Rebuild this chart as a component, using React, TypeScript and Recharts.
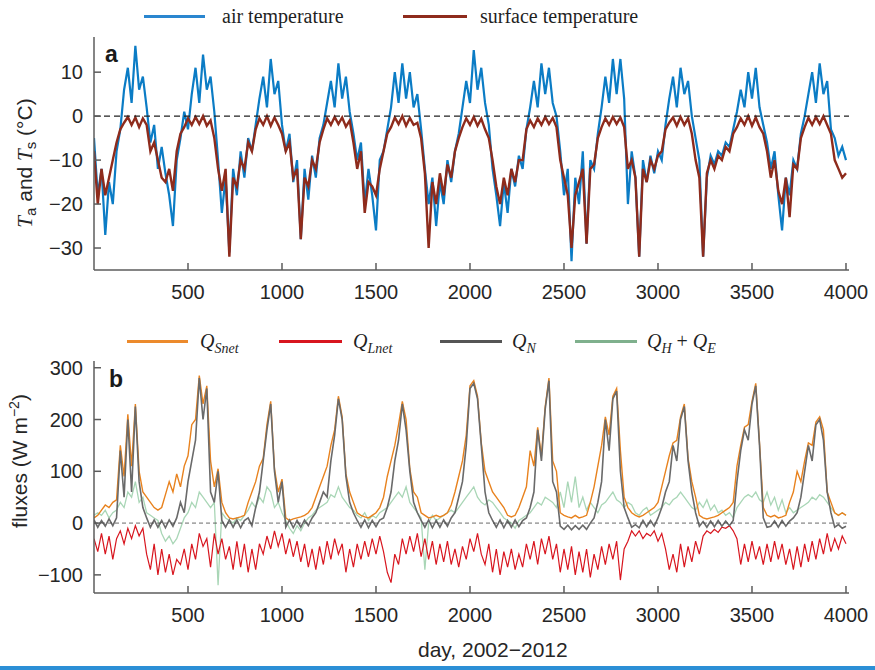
import { LineChart, Line, XAxis, YAxis, ReferenceLine } from 'recharts';

const STEP = 20;

const airTemp = [
  -5, -18, -12, -27, -15, -20, -8, -3, 6, 11, 3, 16, 6, 9, 2, -6, -2, -12, -7,
  -13, -18, -25, -10, -5, 1, -3, 5, 11, 3, 14, 6, 9, 1, -10, -22, -14, -31,
  -12, -18, -8, -14, -5, -8, -2, 4, 9, 2, 13, 5, 8, -2, -8, -4, -15, -10,
  -28, -12, -19, -9, -14, -5, -2, 3, 8, 2, 12, 4, 9, 1, -4, -10, -6, -20, -12,
  -18, -26, -10, -8, -3, 2, 10, 3, 12, 4, 10, 2, 5, -3, -12, -20, -14, -25,
  -15, -20, -10, -15, -8, -4, 2, 8, 3, 15, 6, 11, 3, -2, -12, -18, -25, -15,
  -22, -12, -16, -9, -12, -3, 2, 8, 2, 12, 5, 11, 3, 0, -8, -18, -12, -33,
  -14, -20, -8, -29, -10, -12, -4, 2, 9, 3, 13, 5, 13, 4, -20, -8, -14, -32,
  -10, -15, -9, -13, -8, -10, -2, 4, 9, 2, 11, 5, 8, 0, -5, -10, -32, -14,
  -9, -11, -8, -9, -6, -7, -3, 1, 6, 2, 10, 4, 11, 2, -2, -6, -12, -8,
  -18, -26, -14, -18, -10, -12, -4, 0, 5, 10, 3, 12, 5, 8, -3, -5, -9, -7, -10,
];

const surfTemp = [
  -8, -20, -12, -18, -14, -10, -6, -3, -1.5, -0.2, -2, -0.3, -2.5, -0.5, -2, -8, -6, -10, -14,
  -15, -12, -17, -8, -4, -2.5, -0.5, -2, -0.2, -1.8, 0, -2.2, -1, -5, -12, -17, -12, -32,
  -14, -16, -10, -12, -6, -8, -3, -0.5, -2, 0, -2.2, -0.3, -2, -4, -8, -6, -14, -12,
  -28, -14, -16, -10, -12, -6, -3, -0.5, -2, -0.2, -1.8, -0.3, -2.4, -1, -6, -12, -8, -22, -15,
  -16, -18, -12, -8, -4, -2.5, -0.3, -1.8, 0, -2.2, -0.4, -2, -1.5, -5, -13, -30, -15, -20,
  -13, -18, -11, -14, -8, -5, -2.5, -0.5, -2, -0.2, -2.2, -0.6, -3, -5, -10, -16, -20, -14,
  -18, -12, -15, -10, -10, -3, -1, -2.5, -0.5, -2, -0.2, -1.8, -0.4, -2.5, -10, -14, -18, -30,
  -18, -15, -12, -29, -12, -11, -5, -2.5, -0.5, -2, -0.2, -1.8, -0.3, -2.5, -12, -10, -14, -32,
  -12, -15, -10, -12, -9, -8, -3, -1.5, -0.3, -2.2, -0.2, -2, -0.5, -4, -10, -14, -32, -13,
  -10, -12, -9, -10, -7, -8, -4, -2.5, -0.5, -2, 0, -2.2, -0.3, -2.5, -4, -8, -14, -10,
  -17, -20, -14, -23, -11, -12, -5, -2.5, -0.4, -2, -0.2, -1.8, 0, -2, -4, -10, -12, -14, -13,
];

const qSnet = [
  10, 15, 25, 35, 30, 40, 45, 150, 90, 210,
  110, 230, 100, 60, 50, 40, 30, 25, 30, 55,
  80, 60, 95, 70, 110, 130, 190, 200, 285, 230,
  265, 120, 70, 105, 40, 20, 10, 8, 10, 12,
  15, 40, 60, 80, 110, 125, 190, 235, 105, 60,
  85, 10, 5, 8, 10, 12, 15, 20, 30, 50,
  70, 90, 110, 150, 180, 245, 205, 95, 60, 40,
  20, 15, 12, 10, 15, 20, 30, 50, 90, 120,
  150, 190, 235, 200, 105, 60, 50, 20, 15, 10,
  12, 15, 12, 15, 20, 35, 60, 90, 120, 170,
  265, 275, 245, 155, 100, 80, 60, 50, 40, 30,
  15, 12, 15, 30, 50, 70, 140, 110, 185, 130,
  225, 280, 120, 100, 20, 15, 12, 10, 15, 10,
  12, 15, 40, 70, 110, 150, 205, 170, 245, 260,
  140, 50, 30, 20, 15, 12, 15, 20, 25, 30,
  40, 70, 100, 130, 155, 160, 205, 230, 125, 80,
  50, 15, 10, 8, 10, 12, 15, 20, 25, 30,
  40, 110, 150, 185, 190, 235, 270, 155, 30, 15,
  12, 15, 10, 12, 15, 40, 60, 100, 80, 120,
  155, 150, 195, 205, 180, 60, 40, 20, 15, 20,
  15,
];

const qLnet = [
  -30, -55, -20, -60, -25, -70, -30, -15, -40, -10,
  -30, -5, -25, -10, -60, -90, -40, -100, -50, -95,
  -60, -100, -70, -80, -50, -90, -40, -70, -20, -45,
  -30, -85, -20, -60, -30, -70, -45, -90, -35, -85,
  -40, -95, -50, -90, -40, -60, -25, -50, -15, -45,
  -20, -60, -30, -65, -35, -75, -40, -85, -50, -90,
  -45, -80, -35, -70, -30, -60, -40, -95, -50, -85,
  -40, -70, -35, -65, -30, -60, -25, -55, -95, -115,
  -60, -80, -30, -60, -25, -55, -20, -65, -30, -70,
  -35, -80, -40, -75, -35, -80, -50, -85, -45, -70,
  -30, -55, -20, -60, -80, -40, -95, -50, -100, -55,
  -85, -50, -90, -60, -85, -40, -70, -35, -80, -30,
  -60, -25, -70, -40, -95, -50, -90, -45, -100, -55,
  -95, -50, -105, -60, -90, -45, -80, -40, -70, -35,
  -110, -50, -35, -15, -25, -15, -30, -20, -25, -15,
  -35, -20, -50, -90, -60, -95, -40, -85, -45, -75,
  -35, -60, -25, -15, -20, -12, -18, -8, -10, -5,
  -15, -30, -80, -40, -75, -35, -70, -45, -80, -40,
  -75, -35, -70, -40, -80, -50, -90, -45, -85, -40,
  -75, -35, -70, -30, -60, -20, -55, -30, -50, -25,
  -40,
];

const qN = [
  6, -8, 5, -6, 8, -5, 10, 140, 50, 200,
  60, 225, 80, 30, 10, -8, 6, -8, 5, -9,
  6, -6, 10, 40, 20, 80, 120, 160, 280, 200,
  260, 60, 40, 100, 5, -8, 6, -8, 6, -9,
  5, 10, -5, 30, 60, 120, 180, 230, 100, 40,
  80, -8, 6, -9, 5, -8, 6, -5, 10, 20,
  40, 60, 50, 120, 170, 240, 200, 90, 40, 20,
  5, -8, 6, -9, 5, -7, 6, 10, 30, 60,
  120, 160, 230, 180, 100, 40, 20, 5, -8, 6,
  -9, 5, -8, 6, -6, 10, 20, 50, 80, 150,
  260, 270, 240, 150, 60, 20, 5, -8, 6, -9,
  5, -8, 6, -7, 5, 10, 30, 60, 180, 120,
  220, 275, 80, 60, -6, -12, -4, -13, -5, -12,
  -4, -12, 0, 10, 40, 80, 200, 140, 240, 255,
  100, 30, 10, -8, -3, -9, 5, -7, 5, -6,
  10, 30, 60, 80, 150, 120, 200, 225, 120, 60,
  20, -6, 3, -8, 4, -7, 5, -6, 4, -5,
  5, 80, 140, 180, 160, 230, 265, 150, 10, -8,
  -6, 4, -8, 5, -6, 4, 10, 20, 50, 100,
  150, 120, 190, 200, 160, 60, 20, -8, -3, -10,
  -6,
];

const qHE = [
  15, 20, 15, 25, 10, 20, 25, 40, 30, 60,
  50, 80, 40, 50, 20, 15, 10, 5, -20, -35,
  -25, -40, -30, -10, 10, 20, 40, 30, 60, 50,
  40, 30, 40, -120, 20, 10, 5, 0, 10, 5,
  15, 25, 40, 30, 50, 40, 70, 60, 30, 40,
  20, 5, -10, -20, -5, -15, 0, 10, 15, 25,
  30, 35, 40, 55, 50, 70, 50, 40, 30, 25,
  15, 10, 20, 5, 15, 10, 20, 25, 30, 40,
  50, 60, 50, 70, 40, 30, 20, 10, -90, 0,
  15, 5, 10, 15, 20, 25, 20, 30, 40, 50,
  60, 70, 50, 40, 35, 45, 40, 30, 20, 10,
  5, 0, -10, 5, 10, 15, 20, 30, 40, 35,
  50, 45, 40, 30, 60, 30, 80, 40, 90, 30,
  50, 25, 40, 30, 20, 35, 40, 50, 60, 45,
  40, 30, 40, 35, 20, 15, 25, 30, 15, 20,
  25, 30, 40, 35, 45, 50, 60, 50, 40, 30,
  25, 40, 30, 45, 25, 35, 20, 25, 15, 20,
  10, 30, 40, 50, 55, 50, 60, 45, 40, 60,
  35, 50, 25, 45, 20, 30, 20, 25, 30, 35,
  40, 50, 45, 55, 50, 40, 30, 20, 15, 20,
  15,
];

const dayTicks = [500, 1000, 1500, 2000, 2500, 3000, 3500, 4000];
const tempTicks = [-30, -20, -10, 0, 10];
const fluxTicks = [-100, 0, 100, 200, 300];

const tempData = airTemp.map((v, i) => ({ day: i * STEP, air: v, surf: surfTemp[i] }));
const fluxData = qSnet.map((v, i) => ({ day: i * STEP, sw: v, lw: qLnet[i], net: qN[i], turb: qHE[i] }));

const DAY_DOMAIN: [number, number] = [0, 4016];
const AXIS = '#5c5c5c';
const SANS = '"Liberation Sans", Arial, sans-serif';
const SERIF = '"Liberation Serif", "Times New Roman", serif';
const tickStyle = { fontFamily: SANS, fontSize: 20, fill: '#262626' };

const fmt = (v: number) => (v < 0 ? `\u2212${-v}` : `${v}`);

function TempPanel() {
  return (
    <LineChart width={875} height={315} data={tempData} margin={{ top: 37, right: 26, bottom: 0, left: 34 }}>
      <XAxis dataKey="day" type="number" domain={DAY_DOMAIN} ticks={dayTicks} allowDataOverflow height={45}
        stroke={AXIS} strokeWidth={1.5} tickSize={-7} tickMargin={22} tick={tickStyle} tickFormatter={fmt} />
      <XAxis xAxisId="top" orientation="top" dataKey="day" type="number" domain={DAY_DOMAIN} ticks={dayTicks}
        allowDataOverflow height={0} stroke={AXIS} strokeWidth={1.5} tickSize={-7} tick={false} />
      <YAxis type="number" domain={[-35, 18]} ticks={tempTicks} allowDataOverflow width={60}
        stroke={AXIS} strokeWidth={1.5} tickSize={-7} tickMargin={18} tick={tickStyle} tickFormatter={fmt} />
      <YAxis yAxisId="right" orientation="right" type="number" domain={[-35, 18]} ticks={tempTicks} allowDataOverflow
        width={0} stroke={AXIS} strokeWidth={1.5} tickSize={-7} tick={false} />
      <Line type="linear" dataKey="air" stroke="#0b7cc5" strokeWidth={2.2} dot={false} isAnimationActive={false} />
      <Line type="linear" dataKey="surf" stroke="#8e2b1c" strokeWidth={2.4} dot={false} isAnimationActive={false} />
      <ReferenceLine y={0} stroke="#222" strokeWidth={1.2} strokeDasharray="6 4" />
    </LineChart>
  );
}

function FluxPanel() {
  return (
    <LineChart width={875} height={305} data={fluxData} margin={{ top: 31, right: 26, bottom: 0, left: 34 }}>
      <XAxis dataKey="day" type="number" domain={DAY_DOMAIN} ticks={dayTicks} allowDataOverflow height={42}
        stroke={AXIS} strokeWidth={1.5} tickSize={-7} tickMargin={22} tick={tickStyle} tickFormatter={fmt} />
      <XAxis xAxisId="top" orientation="top" dataKey="day" type="number" domain={DAY_DOMAIN} ticks={dayTicks}
        allowDataOverflow height={0} stroke={AXIS} strokeWidth={1.5} tickSize={-7} tick={false} />
      <YAxis type="number" domain={[-135, 313]} ticks={fluxTicks} allowDataOverflow width={60}
        stroke={AXIS} strokeWidth={1.5} tickSize={-7} tickMargin={18} tick={tickStyle} tickFormatter={fmt} />
      <YAxis yAxisId="right" orientation="right" type="number" domain={[-135, 313]} ticks={fluxTicks} allowDataOverflow
        width={0} stroke={AXIS} strokeWidth={1.5} tickSize={-7} tick={false} />
      <Line type="linear" dataKey="turb" stroke="#a9d6b6" strokeWidth={1.3} dot={false} isAnimationActive={false} />
      <Line type="linear" dataKey="sw" stroke="#e8821e" strokeWidth={1.4} dot={false} isAnimationActive={false} />
      <Line type="linear" dataKey="lw" stroke="#d8161f" strokeWidth={1.2} dot={false} isAnimationActive={false} />
      <Line type="linear" dataKey="net" stroke="#6a6a6a" strokeWidth={1.6} dot={false} isAnimationActive={false} />
      <ReferenceLine y={0} stroke="#444" strokeWidth={0.8} strokeDasharray="4 3" />
    </LineChart>
  );
}

const legendLine = (left: number, top: number, width: number, color: string) => (
  <div style={{ position: 'absolute', left, top, width, height: 2.5, background: color }} />
);

export default function App() {
  return (
    <div style={{ position: 'absolute', left: 0, top: 0, width: 875, height: 670, background: '#fff', overflow: 'hidden' }}>
      <div style={{ position: 'absolute', left: 0, top: 0 }}>
        <TempPanel />
      </div>
      <div style={{ position: 'absolute', left: 0, top: 330 }}>
        <FluxPanel />
      </div>

      {legendLine(144, 15, 61, '#2a86cf')}
      {legendLine(403, 15, 64, '#8e2b1c')}
      {legendLine(127, 340, 61, '#ec8a2c')}
      {legendLine(279, 340, 63, '#d8161f')}
      {legendLine(440, 340, 62, '#555')}
      {legendLine(575, 340, 62, '#7fb08d')}

      <svg width={875} height={670} style={{ position: 'absolute', left: 0, top: 0, pointerEvents: 'none' }}>
        <g fontFamily={SERIF} fontSize={20} fill="#1f1f1f">
          <text x={222} y={23}>air temperature</text>
          <text x={480} y={23}>surface temperature</text>
          <g fontStyle="italic">
            <text x={200} y={348}>Q<tspan fontSize={14} dy={5}>Snet</tspan></text>
            <text x={353} y={348}>Q<tspan fontSize={14} dy={5}>Lnet</tspan></text>
            <text x={512} y={348}>Q<tspan fontSize={14} dy={5}>N</tspan></text>
            <text x={647} y={348}>
              Q<tspan fontSize={14} dy={5}>H</tspan>
              <tspan dy={-5} fontStyle="normal"> + </tspan>Q<tspan fontSize={14} dy={5}>E</tspan>
            </text>
          </g>
        </g>

        <text x={105} y={62} fontFamily={SANS} fontSize={23} fontWeight="bold" fill="#1a1a1a">a</text>
        <text x={109} y={387} fontFamily={SANS} fontSize={23} fontWeight="bold" fill="#1a1a1a">b</text>

        <text x={32} y={163} transform="rotate(-90 32 163)" textAnchor="middle" fontFamily={SANS} fontSize={21} fill="#262626">
          <tspan fontFamily={SERIF} fontStyle="italic">T</tspan>
          <tspan fontSize={15} dy={4}>a</tspan>
          <tspan dy={-4}> and </tspan>
          <tspan fontFamily={SERIF} fontStyle="italic">T</tspan>
          <tspan fontSize={15} dy={4}>s</tspan>
          <tspan dy={-4}> (°C)</tspan>
        </text>

        <text x={27} y={461} transform="rotate(-90 27 461)" textAnchor="middle" fontFamily={SANS} fontSize={21} fill="#262626">
          fluxes (W m<tspan fontSize={14} dy={-8}>{'\u22122'}</tspan><tspan dy={8}>)</tspan>
        </text>

        <text x={418} y={657} fontFamily={SANS} fontSize={21} fill="#262626">day, 2002{'\u2212'}2012</text>

        <rect x={0} y={666} width={875} height={4} fill="#2b8fd6" />
      </svg>
    </div>
  );
}
